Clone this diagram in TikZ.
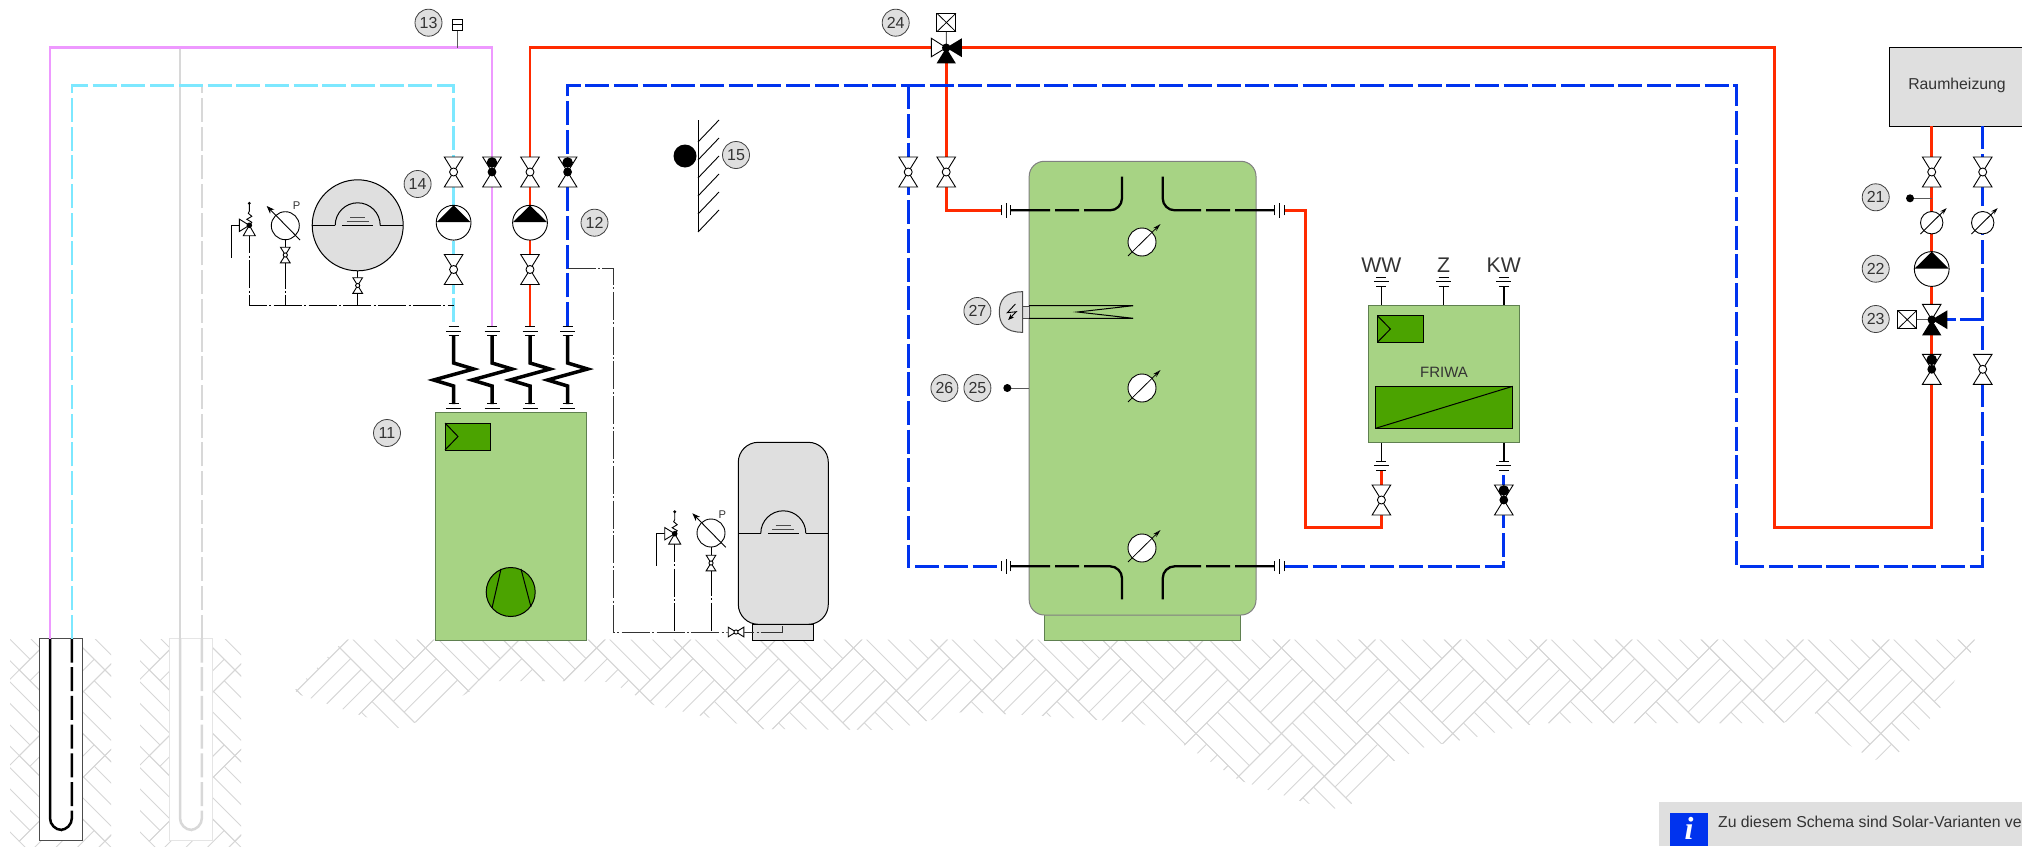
\documentclass[tikz,border=0pt]{standalone}
\usepackage{fontspec}
\setmainfont{Liberation Sans}
\newfontfamily\infofont{Liberation Serif}
\usetikzlibrary{arrows.meta}
\definecolor{brinepink}{HTML}{EE99FF}
\definecolor{brinecyan}{HTML}{7DE8FF}
\definecolor{heatred}{HTML}{FF2A00}
\definecolor{heatblue}{HTML}{0033EE}
\definecolor{offgrey}{HTML}{D8D8D8}
\definecolor{panelgrey}{HTML}{DFDFDF}
\definecolor{unitgreen}{HTML}{A7D384}
\definecolor{partgreen}{HTML}{4BA300}
\definecolor{unitedge}{HTML}{5F8050}
\definecolor{tagtext}{HTML}{333333}
\tikzset{
    valve/.pic={
        \draw[fill=white,line width=.45pt] (-9.3,-15) -- (9.3,-15) -- (-9.3,15) -- (9.3,15) -- cycle;
        \draw[fill=white,line width=.45pt] (0,0) circle[radius=4];
    },
    shutvalve/.pic={
        \draw[fill=white,line width=.45pt] (-9.3,-15) -- (9.3,-15) -- (-9.3,15) -- (9.3,15) -- cycle;
        \fill (0,-9.5) circle[radius=5.3];
        \fill (0,0) circle[radius=4.4];
    },
    pump/.pic={
        \draw[fill=white,line width=.45pt] (0,0) circle[radius=17.4];
        \fill (0,-17.4) -- (17,-.5) -- (-17,-.5) -- cycle;
    },
    gauge/.pic={
        \draw[fill=white,line width=.45pt] (0,0) circle[radius=11.2];
        \draw[line width=.45pt,-{Stealth[length=3.5pt,width=2.2pt]}] (-11.3,11.3) -- (15,-14.7);
    },
    storegauge/.pic={
        \draw[fill=white,line width=.45pt] (0,0) circle[radius=14];
        \draw[line width=.4pt,-{Stealth[length=4pt,width=2.2pt,fill=white]}] (-14,14) -- (18.5,-18);
    },
    pressgauge/.pic={
        \draw[fill=white,line width=.45pt] (0,0) circle[radius=14];
        \draw[line width=.45pt,-{Stealth[length=4pt,width=3pt]}] (14.7,14.3) -- (-18.6,-19.7);
    },
    safety/.pic={
        \draw[line width=.45pt] (-10,0) -- (-18,0) -- (-18,32.4);
        \draw[line width=.45pt] (0,0) -- (2.5,-3) -- (-2.5,-6) -- (2.5,-9) -- (-1,-12) -- (0,-14) -- (0,-22);
        \fill (0,-22) circle[radius=1.6];
        \draw[fill=white,line width=.45pt] (-10,-6.2) -- (0,0) -- (-10,6.2) -- cycle;
        \draw[fill=white,line width=.45pt] (0,0) -- (6,10.4) -- (-6,10.4) -- cycle;
        \fill (0,0) circle[radius=2.8];
    },
    flange/.pic={
        \draw[line width=.45pt] (-5,-4.7) -- (5,-4.7);
        \draw[line width=.45pt] (-7.5,0) -- (7.5,0);
        \draw[line width=.45pt] (-5,4.7) -- (5,4.7);
    },
    drive/.pic={
        \draw[fill=white,line width=.45pt] (-9.5,-9.2) rectangle (9.5,9.2);
        \draw[line width=.4pt] (-9.5,-9.2) -- (9.5,9.2) (-9.5,9.2) -- (9.5,-9.2);
    },
    mixer/.pic={
        \fill (0,0) -- (15.6,-9.4) -- (15.6,9.4) -- cycle;
        \fill (0,0) -- (9.6,15.6) -- (-9.6,15.6) -- cycle;
        \fill (0,0) circle[radius=4.2];
    },
    vessel/.pic={
        \draw[line width=.5pt] (-22.5,0) arc[start angle=180,end angle=360,radius=22.5];
        \draw[line width=.5pt] (-15.5,0) -- (15.5,0);
        \draw[line width=.5pt,black!70] (-11,-4.2) -- (11,-4.2);
        \draw[line width=.5pt,black!70] (-7.7,-8) -- (7.7,-8);
    }
}
\newcommand{\parquet}[4]{
    \foreach \j in {-2,...,4}{
        \foreach \i in {#3,...,#4}{
            \pgfmathsetmacro{\cx}{#1+85.6*\i-42.8*mod(abs(\j),2)}
            \pgfmathsetmacro{\cy}{#2+42.8*\j}
            \pgfmathsetmacro{\flip}{1-2*mod(abs(\j),2)}
            \begin{scope}[shift={(\cx,\cy)},xscale=\flip]
                \draw[ground] (0,-42.8) -- (42.8,0) -- (0,42.8) -- (-42.8,0) -- cycle;
                \draw[ground] (10.7,-32.1) -- (-32.1,10.7);
                \draw[ground] (21.4,-21.4) -- (-21.4,21.4);
                \draw[ground] (32.1,-10.7) -- (-10.7,32.1);
            \end{scope}
        }
    }
}
\begin{document}
\begin{tikzpicture}[x=0.5pt,y=-0.5pt]
    \tikzstyle{ground}=[line width=.45pt,black!16]
    \tikzstyle{pipe}=[line width=1.4pt,line join=miter]
    \tikzstyle{dashpipe}=[pipe,dash pattern=on 12pt off 2.35pt]
    \tikzstyle{hose}=[line width=1.75pt,line join=miter]
    \tikzstyle{coil}=[line width=1.15pt,rounded corners=6pt,dash pattern=on 19.5pt off 2.5pt on 12pt off 2.5pt on 60pt off 1pt]
    \tikzstyle{well}=[line width=1.25pt,rounded corners=6pt]
    \tikzstyle{stem}=[line width=.9pt]
    \tikzstyle{signal}=[line width=.5pt,dash pattern=on 14pt off 1.2pt on 1pt off 1.2pt]
    \tikzstyle{thin}=[line width=.5pt,black!65]
    \tikzstyle{unit}=[fill=unitgreen,draw=unitedge,line width=.5pt]
    \tikzstyle{part}=[fill=partgreen,draw=black,line width=.5pt]
    \tikzstyle{panel}=[fill=panelgrey,draw=black,line width=.5pt]
    \tikzstyle{tag}=[circle,fill=panelgrey,draw=black!75,line width=.4pt,minimum size=13.5pt,inner sep=0pt,text=tagtext,font=\fontsize{8pt}{9pt}\selectfont]
    \tikzstyle{caption}=[inner sep=0pt,text=tagtext,font=\fontsize{7.9pt}{9pt}\selectfont]
    \tikzstyle{port}=[inner sep=0pt,text=tagtext,font=\fontsize{10.6pt}{12pt}\selectfont]
    \useasboundingbox (0,0) rectangle (2022,846);

    \begin{scope}
        \clip (10,639) rectangle (111,846);
        \parquet{62.1}{670}{0}{1}
    \end{scope}
    \begin{scope}
        \clip (140,639) rectangle (241,846);
        \parquet{192.1}{670}{0}{1}
    \end{scope}
    \begin{scope}
        \clip (345,639.5) -- (295,690) -- (298,694) -- (360,715) -- (398,728) -- (420,721) -- (472,690)
            -- (478,681) -- (566,681) -- (610,682) -- (654,705) -- (702,716) -- (762,729) -- (892,730)
            -- (961,712) -- (1043,716) -- (1141,723) -- (1186,746) -- (1239,780) -- (1306,803) -- (1333,809)
            -- (1351,804) -- (1394,761) -- (1421,748) -- (1476,737) -- (1527,725) -- (1550,723) -- (1782,723)
            -- (1815,713) -- (1842,741) -- (1875,760) -- (1898,753) -- (1918,731) -- (1940,708) -- (1955,680)
            -- (1971,652) -- (1975,639.5) -- cycle;
        \parquet{83.1}{690.7}{2}{23}
    \end{scope}

    \coordinate (levelA) at (0,47.7);
    \coordinate (levelB) at (0,85.3);
    \coordinate (wellA) at (50,638.5);
    \coordinate (wellB) at (71.9,638.5);
    \coordinate (wellC) at (180,638.5);
    \coordinate (wellD) at (201.9,638.5);
    \coordinate (tapA) at (453.6,326);
    \coordinate (tapB) at (492,326);
    \coordinate (tapC) at (530,326);
    \coordinate (tapD) at (567.6,326);
    \coordinate (mixTop) at (946.2,47.7);
    \coordinate (mixRoom) at (1931.7,319.7);
    \coordinate (branchB) at (908.2,85.3);
    \coordinate (portA) at (1001,210.3);
    \coordinate (portB) at (1001,566.3);
    \coordinate (portC) at (1284,210.3);
    \coordinate (portD) at (1284,566.3);
    \coordinate (coilA) at (1011,210.3);
    \coordinate (coilB) at (1011,566.3);
    \coordinate (coilC) at (1274,210.3);
    \coordinate (coilD) at (1274,566.3);
    \coordinate (coilAend) at (1122,176.7);
    \coordinate (coilBend) at (1122,599.3);
    \coordinate (coilCend) at (1162.7,176.7);
    \coordinate (coilDend) at (1162.7,599.3);
    \coordinate (riseRed) at (1305.5,527.7);
    \coordinate (freshRed) at (1381.4,470);
    \coordinate (freshBlue) at (1503.8,470);
    \coordinate (loopRed) at (1774.3,527.7);
    \coordinate (loopBlue) at (1736.3,566.3);
    \coordinate (roomRed) at (1931.7,126.3);
    \coordinate (roomBlue) at (1982.7,126.3);
    \coordinate (bypass) at (1982.7,319.7);
    \coordinate (safeA) at (249.3,225.3);
    \coordinate (safeB) at (674.7,533.7);
    \coordinate (gaugeA) at (285.3,225.7);
    \coordinate (gaugeB) at (711,533);
    \coordinate (vesselA) at (357.7,225.3);
    \coordinate (vesselB) at (783.3,533.3);
    \coordinate (drainA) at (357.7,285.5);
    \coordinate (drainB) at (736,632);
    \coordinate (feedA) at (453.6,305.3);
    \coordinate (feedB) at (567.6,268.5);
    \coordinate (cornerB) at (613.9,632);
    \coordinate (footB) at (782.8,624.3);
    \coordinate (senseTop) at (457,30);
    \coordinate (senseRoom) at (1910,198.3);
    \coordinate (senseStore) at (1007.3,388);

    \fill[panelgrey] (1889.3,47.7) rectangle (2022,126.3);
    \draw[line width=.6pt] (2022,47.7) -- (1889.3,47.7) -- (1889.3,126.3) -- (2022,126.3);
    \node[caption] (roomlabel) at (1957,85) {Raumheizung};

    \draw[fill=white,draw=black!70,line width=.5pt] (39,638.3) rectangle (82.3,840.7);
    \draw[fill=white,draw=black!10,line width=.5pt] (169,638.3) rectangle (212.3,840.7);
    \draw[well,offgrey] (wellC) -- (180,830) -- (191,830);
    \draw[well,offgrey,dash pattern=on 12pt off 2.35pt] (wellD) -- (201.9,830) -- (191,830);
    \draw[well] (wellA) -- (50,830) -- (61,830);
    \draw[well,dash pattern=on 12pt off 2.35pt] (wellB) -- (71.9,830) -- (61,830);

    \draw[pipe,offgrey] (wellC) -- (wellC |- levelA);
    \draw[dashpipe,offgrey] (wellD) -- (wellD |- levelB);
    \draw[pipe,brinepink] (wellA) -- (wellA |- levelA) -| (tapB);
    \draw[dashpipe,brinecyan] (wellB) -- (wellB |- levelB) -| (tapA);
    \draw[pipe,heatred] (tapC) -- (tapC |- levelA) -- (mixTop);
    \draw[pipe,heatred] (mixTop) -- (mixTop -| loopRed) -- (loopRed) -| (roomRed);
    \draw[pipe,heatred] (mixTop) |- (portA);
    \draw[pipe,heatred] (portC) -| (riseRed) -| (freshRed);
    \draw[dashpipe,heatblue] (tapD) -- (tapD |- levelB) -| (loopBlue) -| (roomBlue);
    \draw[dashpipe,heatblue] (branchB) |- (portB);
    \draw[dashpipe,heatblue] (portD) -| (freshBlue);
    \draw[dashpipe,heatblue] (mixRoom) -- (bypass);
    \draw[thin] (457,47.7) -- (senseTop);

    \draw[signal] (safeA) -- (safeA |- feedA) -- (feedA);
    \draw[signal] (gaugeA) -- (gaugeA |- feedA);
    \draw[signal] (drainA) -- (drainA |- feedA);

    \draw[panel,rounded corners=10pt] (738.3,442.3) rectangle (828.3,624.3);
    \draw[panel] (752.6,624.3) rectangle (813.5,640);
    \draw[signal,black!80] (feedB) -| (cornerB) -- (drainB) -- (footB |- drainB) -- (footB);
    \draw[signal] (safeB) -- (safeB |- cornerB);
    \draw[signal] (gaugeB) -- (gaugeB |- cornerB);

    \draw[panel] (vesselA) circle[radius=45.5];
    \draw[line width=.5pt] (312.2,225.3) -- (335.2,225.3) (380.2,225.3) -- (403.2,225.3);
    \pic at (vesselA) {vessel};
    \draw[line width=.5pt] (738.3,533.3) -- (761,533.3) (805.6,533.3) -- (828.3,533.3);
    \pic at (vesselB) {vessel};
    \draw[line width=.5pt] (vesselA) ++(0,45.5) -- (drainA);
    \pic[scale=.52] at (drainA) {valve};
    \pic[scale=.52,rotate=90] at (drainB) {valve};
    \pic[scale=.52] at (285.3,255) {valve};
    \pic[scale=.52] at (711,563) {valve};
    \pic at (safeA) {safety};
    \pic at (safeB) {safety};
    \pic at (gaugeA) {pressgauge};
    \pic at (gaugeB) {pressgauge};
    \node[inner sep=0pt,text=tagtext,font=\fontsize{5.6pt}{7pt}\selectfont] (pressA) at (296.7,206) {P};
    \node[inner sep=0pt,text=tagtext,font=\fontsize{5.6pt}{7pt}\selectfont] (pressB) at (722.4,514.3) {P};

    \foreach \x in {453.6,492,530,567.6}{
        \draw[hose] (\x,335.7) -- (\x,363) -- ++(20,6) -- ++(-40,11) -- ++(20,6) -- (\x,404);
        \pic at (\x,331) {flange};
        \pic at (\x,408.5) {flange};
    }
    \draw[unit] (435,412.8) rectangle (586.5,640);
    \draw[part] (445,423) rectangle (490,450);
    \draw[line width=.5pt] (445,423) -- (458,436.5) -- (445,450);
    \node[circle,part,minimum size=24.5pt,inner sep=0pt] (press) at (510.7,592) {};
    \draw[line width=.5pt] (501,569) -- (492,608) (521,569) -- (531,607);

    \draw[unit] (1044.4,610) rectangle (1240.8,640);
    \draw[unit,draw=black!50,rounded corners=7.5pt] (1029.2,161.3) rectangle (1256,615);
    \draw[coil] (coilA) -| (coilAend);
    \draw[coil] (coilB) -| (coilBend);
    \draw[coil] (coilC) -| (coilCend);
    \draw[coil] (coilD) -| (coilDend);
    \foreach \x in {1006,1279.6}{
        \pic[rotate=90] at (\x,210.3) {flange};
        \pic[rotate=90] at (\x,566.3) {flange};
    }
    \foreach \y in {242,388,548}{
        \pic at (1142,\y) {storegauge};
    }
    \draw[fill=panelgrey,line width=.45pt,draw=black!70] (1022.5,306) rectangle (1029.2,318.3);
    \draw[panel,draw=black!70] (1022.5,291.7) .. controls (1005,291.7) and (999.3,300) .. (999.3,312) .. controls (999.3,324) and (1005,332.3) .. (1022.5,332.3) -- cycle;
    \draw[line width=.45pt,-{Stealth[length=3pt,width=2.4pt]}] (1015.4,304) -- (1007.3,312.7) -- (1016.3,311.7) -- (1008.2,320);
    \draw[line width=.5pt] (1029.2,305.7) -- (1133.2,305.7) -- (1077.4,312) -- (1133.2,318.3) -- (1029.2,318.3);
    \draw[thin] (senseStore) -- (1029.2,388);
    \fill (senseStore) circle[radius=4];

    \draw[unit] (1368,305) rectangle (1519.4,442.7);
    \draw[part] (1377.4,315.7) rectangle (1423.4,342.3);
    \draw[line width=.5pt] (1377.4,315.7) -- (1390.4,329) -- (1377.4,342.3);
    \draw[part] (1375.6,386.3) rectangle (1512.7,428.3);
    \draw[line width=.5pt] (1375.6,428.3) -- (1512.7,386.3);
    \node[caption,font=\fontsize{7.5pt}{9pt}\selectfont] (friwa) at (1444,372.3) {FRIWA};
    \foreach \x in {1381.4,1443.5,1503.8}{
        \draw[stem] (\x,286.5) -- (\x,305);
        \pic at (\x,281.7) {flange};
    }
    \foreach \x in {1381.4,1503.8}{
        \draw[stem] (\x,442.7) -- (\x,461);
        \pic at (\x,465.7) {flange};
    }
    \node[port] (ww) at (1381.4,265.7) {WW};
    \node[port] (zirk) at (1443.5,265.7) {Z};
    \node[port] (kw) at (1503.8,265.2) {KW};

    \foreach \x/\y in {453.6/172,530/172,453.6/269.5,530/269.5,908.2/172,946.2/172,1381.4/500,1931.7/172,1982.7/172,1982.7/369.3}{
        \pic at (\x,\y) {valve};
    }
    \foreach \x/\y in {492/172,567.6/172,1503.8/500,1931.7/369.3}{
        \pic at (\x,\y) {shutvalve};
    }
    \foreach \x in {453.6,530}{
        \pic at (\x,222.7) {pump};
    }
    \pic at (1931.7,269) {pump};
    \pic at (1931.7,222.7) {gauge};
    \pic at (1982.7,222.7) {gauge};
    \draw[thin] (senseRoom) -- (1931.7,198.3);
    \fill (senseRoom) circle[radius=4];

    \draw[thin] (1907,319.7) -- (mixRoom);
    \draw[fill=white,line width=.45pt] (mixRoom) -- (1922.4,304.3) -- (1941,304.3) -- cycle;
    \pic at (mixRoom) {mixer};
    \pic at (1907.2,319.7) {drive};
    \draw[thin] (946.4,31.7) -- (mixTop);
    \draw[fill=white,line width=.45pt] (mixTop) -- (931.4,38.3) -- (931.4,56.7) -- cycle;
    \pic at (mixTop) {mixer};
    \pic at (946.4,22.5) {drive};
    \draw[fill=white,line width=.45pt] (452,19) rectangle (462,30);
    \draw[line width=.45pt] (452,24.5) -- (462,24.5);

    \foreach \n/\x/\y in {11/387/433,12/594.5/222.7,13/428.5/22.7,14/417.6/184,15/736/155,21/1875.7/197.3,22/1875.7/268.7,23/1875.7/319,24/895.7/22.7,25/977.4/388,26/944.4/388,27/977.4/311}{
        \node[tag] (tag\n) at (\x,\y) {\n};
    }

    \fill (685,156) circle[radius=11.5];
    \draw[line width=.45pt] (698,120) -- (698,232);
    \foreach \y in {142,160,178,196,214,232}{
        \draw[line width=.45pt] (698,\y) -- (719,\y-22);
    }

    \fill[panelgrey] (1659,802) rectangle (2022,846);
    \fill[heatblue] (1670,813) rectangle (1708,846);
    \node[inner sep=0pt,text=white,font=\infofont\fontsize{16pt}{17pt}\selectfont\bfseries\itshape] (infoi) at (1689,828) {i};
    \node[caption,anchor=base west] (info) at (1717.7,827.3) {Zu diesem Schema sind Solar-Varianten ve};
\end{tikzpicture}
\end{document}
